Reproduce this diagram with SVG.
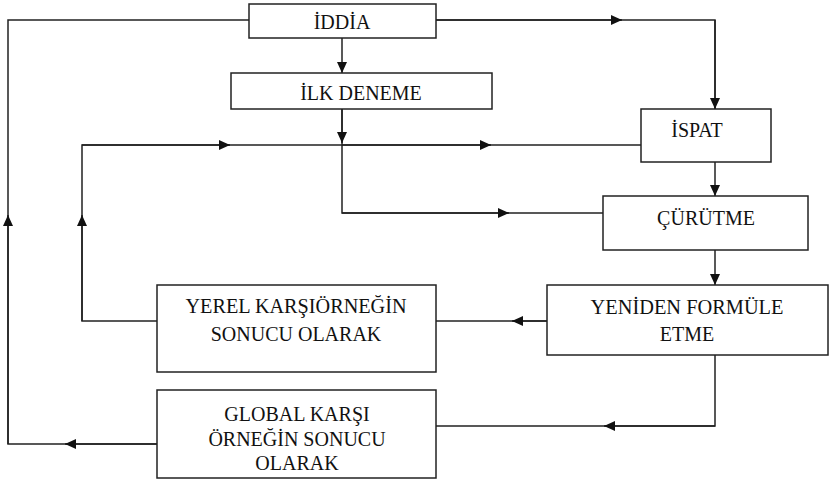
<svg xmlns="http://www.w3.org/2000/svg" width="829" height="480" viewBox="0 0 829 480">
<defs>
<marker id="ah" markerUnits="userSpaceOnUse" markerWidth="12" markerHeight="10" refX="11" refY="5" orient="auto">
<path d="M0,0 L11,5 L0,10 z" fill="#111"/>
</marker>
</defs>
<g id="connectors" fill="none" stroke="#222" stroke-width="1.5">
<path d="M249,20 H8 V444 H157"/>
<path d="M8,444 V215" marker-end="url(#ah)"/>
<path d="M157,444 H65" marker-end="url(#ah)"/>
<path d="M436,20 H715 V109"/>
<path d="M436,20 H622" marker-end="url(#ah)"/>
<path d="M715,20 V109" marker-end="url(#ah)"/>
<path d="M342,38 V73" marker-end="url(#ah)"/>
<path d="M342,109 V213 H603"/>
<path d="M342,109 V143" marker-end="url(#ah)"/>
<path d="M342,213 H509" marker-end="url(#ah)"/>
<path d="M157,321 H82 V145 H641"/>
<path d="M82,321 V215" marker-end="url(#ah)"/>
<path d="M82,145 H230" marker-end="url(#ah)"/>
<path d="M342,145 H491" marker-end="url(#ah)"/>
<path d="M715,162 V196" marker-end="url(#ah)"/>
<path d="M715,250 V285" marker-end="url(#ah)"/>
<path d="M547,321 H436"/>
<path d="M547,321 H512" marker-end="url(#ah)"/>
<path d="M715,355 V426 H436"/>
<path d="M715,426 H604" marker-end="url(#ah)"/>
</g>
<g font-family="Liberation Serif, Times New Roman, serif" font-size="20" fill="#111" text-anchor="middle">
<g id="iddia">
<rect x="249" y="4" width="187" height="34" fill="#fff" stroke="#222" stroke-width="1.5"/>
<text x="342" y="29">İDDİA</text>
</g>
<g id="ilk-deneme">
<rect x="231" y="73" width="261" height="36" fill="#fff" stroke="#222" stroke-width="1.5"/>
<text x="361" y="100">İLK DENEME</text>
</g>
<g id="ispat">
<rect x="641" y="109" width="130" height="53" fill="#fff" stroke="#222" stroke-width="1.5"/>
<text x="697" y="137">İSPAT</text>
</g>
<g id="curutme">
<rect x="603" y="196" width="205" height="54" fill="#fff" stroke="#222" stroke-width="1.5"/>
<text x="706" y="225">ÇÜRÜTME</text>
</g>
<g id="yeniden">
<rect x="547" y="285" width="281" height="70" fill="#fff" stroke="#222" stroke-width="1.5"/>
<text x="687" y="314" textLength="193" lengthAdjust="spacingAndGlyphs">YENİDEN FORMÜLE</text>
<text x="687" y="341">ETME</text>
</g>
<g id="yerel">
<rect x="157" y="285" width="279" height="87" fill="#fff" stroke="#222" stroke-width="1.5"/>
<text x="296" y="313" textLength="221" lengthAdjust="spacingAndGlyphs">YEREL KARŞIÖRNEĞİN</text>
<text x="296" y="341">SONUCU OLARAK</text>
</g>
<g id="global">
<rect x="157" y="390" width="279" height="88" fill="#fff" stroke="#222" stroke-width="1.5"/>
<text x="297" y="421">GLOBAL KARŞI</text>
<text x="297" y="446">ÖRNEĞİN SONUCU</text>
<text x="297" y="470">OLARAK</text>
</g>
</g>
</svg>
